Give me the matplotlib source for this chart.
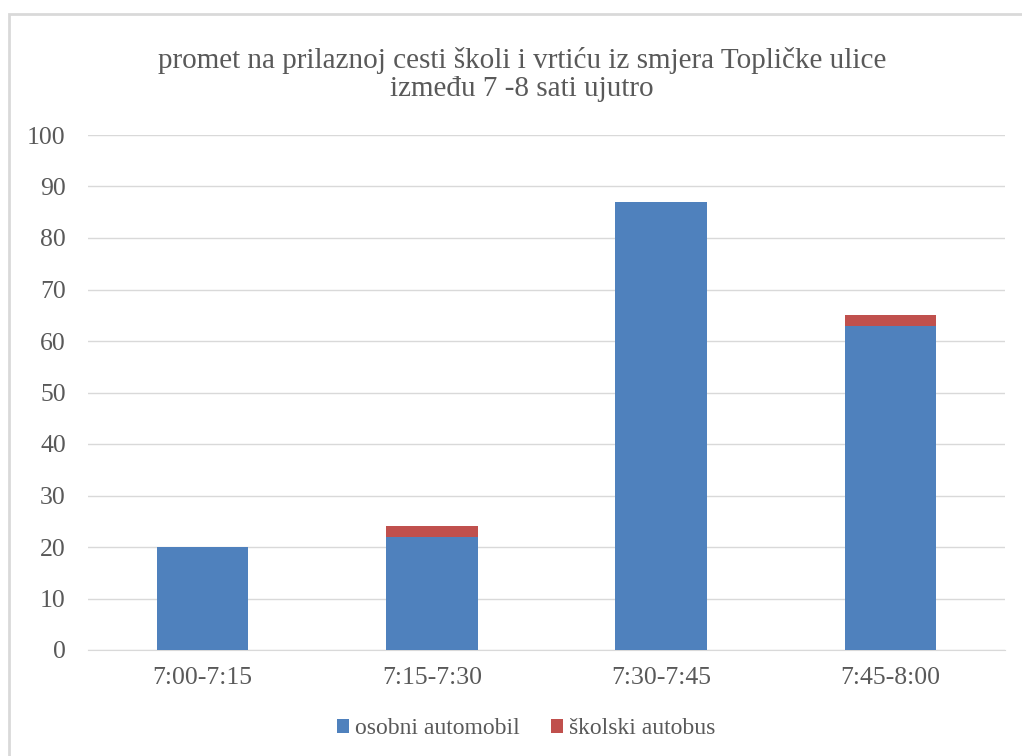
import matplotlib.pyplot as plt
from matplotlib.patches import Rectangle

categories = ["7:00-7:15", "7:15-7:30", "7:30-7:45", "7:45-8:00"]
osobni = [20, 22, 87, 63]
skolski = [0, 2, 0, 2]

plt.rcParams['font.family'] = ['Liberation Serif', 'DejaVu Serif']
txt = '#595959'

fig = plt.figure(figsize=(10.22, 7.56), dpi=100)
# okvir grafikona
fig.patches.append(Rectangle((9/1022, -0.01), 1.02, 1 - 14/756 + 0.01, transform=fig.transFigure,
                             fill=False, edgecolor='#D9D9D9', linewidth=2))
ax = fig.add_axes([88/1022, 1 - 650/756, (1005 - 88)/1022, (650 - 135)/756])

x = range(len(categories))
ax.bar(x, osobni, width=0.4, color='#4F81BD', label='osobni automobil', zorder=3)
ax.bar(x, skolski, width=0.4, bottom=osobni, color='#C0504D', label='školski autobus', zorder=3)

ax.set_ylim(0, 100)
ax.set_xlim(-0.5, 3.5)
ax.set_yticks(range(0, 101, 10))
ax.set_xticks(list(x))
ax.set_xticklabels(categories)
ax.yaxis.grid(True, color='#D9D9D9', linewidth=1, zorder=0)
for s in ['top', 'right', 'left']:
    ax.spines[s].set_visible(False)
ax.spines['bottom'].set_color('#D9D9D9')
ax.tick_params(axis='both', length=0, labelsize=18.5, colors=txt)
ax.tick_params(axis='x', pad=12)
ax.tick_params(axis='y', pad=16)

fig.text(0.511, 1 - 74/756, "promet na prilaznoj cesti školi i vrtiću iz smjera Topličke ulice\nizmeđu 7 -8 sati ujutro",
         ha='center', va='center', fontsize=21, color=txt, linespacing=1.1)

fig.legend(loc='center', bbox_to_anchor=(0.515, 1 - 729/756), ncol=2, frameon=False,
           fontsize=17, labelcolor=txt, handlelength=0.5, handleheight=0.5,
           handletextpad=0.25, columnspacing=1.35)

fig.savefig('out.png', dpi=100)
